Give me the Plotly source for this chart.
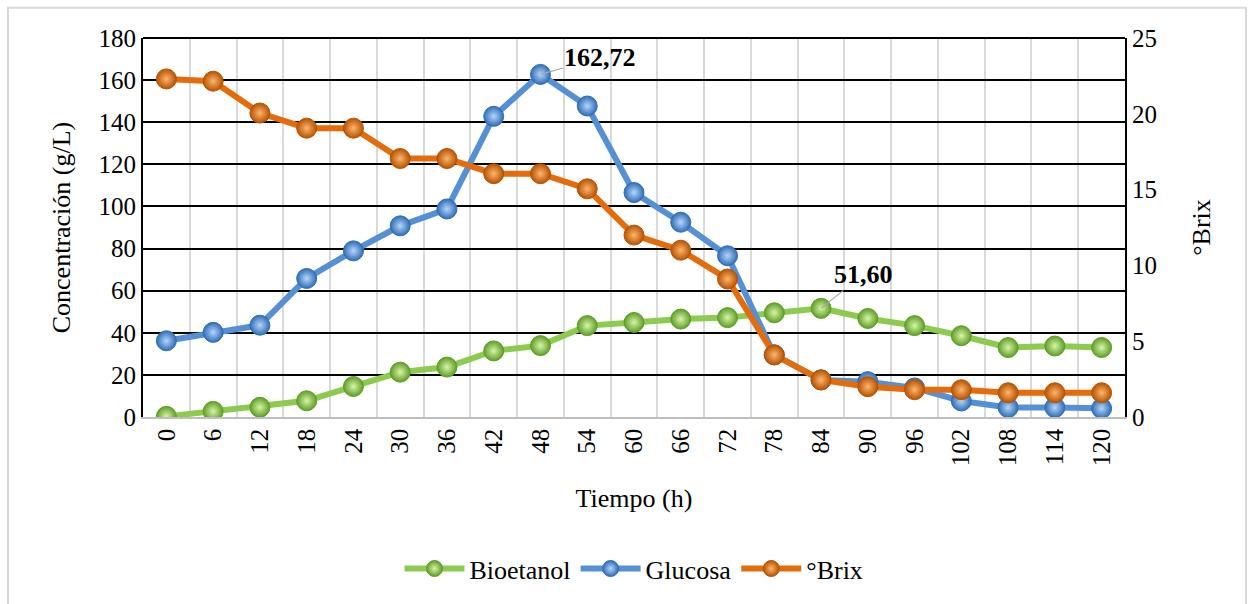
import plotly.graph_objects as go

# Sampling times (h)
tiempo = [0, 6, 12, 18, 24, 30, 36, 42, 48, 54, 60, 66, 72, 78, 84, 90, 96, 102, 108, 114, 120]

# Concentrations (g/L)
bioetanol = [0.3, 2.7, 4.6, 7.7, 14.5, 21.3, 23.7, 31.4, 33.9, 43.4, 44.9, 46.5, 47.2,
             49.5, 51.60, 46.8, 43.4, 38.6, 33.0, 33.7, 33.0]
glucosa = [36.2, 40.2, 43.6, 65.8, 78.9, 90.8, 98.8, 142.8, 162.72, 147.7, 106.6, 92.5, 76.6,
           29.5, 17.6, 16.8, 13.8, 7.6, 4.5, 4.5, 4.1]

# Soluble solids (°Brix)
brix = [22.3, 22.15, 20.05, 19.05, 19.05, 17.05, 17.05, 16.05, 16.05, 15.05, 12.0, 11.0, 9.1,
        4.1, 2.45, 2.0, 1.8, 1.8, 1.6, 1.6, 1.6]

cats = [str(t) for t in tiempo]

FONT = "'Times New Roman', 'Liberation Serif', serif"
fig = go.Figure()


def add_series(name, values, line_color, edge, center, axis):
    fig.add_trace(go.Scatter(
        x=cats, y=values, name=name, yaxis=axis, mode="lines+markers",
        line=dict(color=line_color, width=6),
        marker=dict(size=20, color=edge, symbol="circle",
                    gradient=dict(type="radial", color=center),
                    line=dict(color=edge, width=1)),
    ))


add_series("Bioetanol", bioetanol, "#8DCB4E", "#5E9E26", "#D8F5A8", "y")
add_series("Glucosa", glucosa, "#5590D6", "#2F6DB8", "#B5D6F7", "y")
add_series("°Brix", brix, "#E46C0A", "#B85200", "#FBB66E", "y2")


def fmt(v):
    return f"{v:.2f}".replace(".", ",")


# Value labels at the peaks (x given as category index)
i_glu = glucosa.index(max(glucosa))
fig.add_annotation(x=i_glu, y=glucosa[i_glu], text=f"<b>{fmt(glucosa[i_glu])}</b>",
                   showarrow=True, arrowhead=0, arrowwidth=1.2, arrowcolor="#A6A6A6",
                   ax=60, ay=-17, font=dict(family=FONT, size=26, color="black"))

i_bio = bioetanol.index(max(bioetanol))
fig.add_annotation(x=i_bio, y=bioetanol[i_bio], text=f"<b>{fmt(bioetanol[i_bio])}</b>",
                   showarrow=True, arrowhead=0, arrowwidth=1.2, arrowcolor="#A6A6A6",
                   ax=42, ay=-34, font=dict(family=FONT, size=26, color="black"))

# Light outer frame of the chart area
fig.add_shape(type="rect", xref="paper", yref="paper",
              x0=-0.1375, x1=1.1232, y0=-0.52, y1=1.080,
              line=dict(color="#D9D9D9", width=2), layer="below")

fig.update_layout(
    width=1248, height=604,
    margin=dict(l=143, r=123, t=38, b=185),
    paper_bgcolor="white", plot_bgcolor="white",
    font=dict(family=FONT, size=24, color="black"),
    showlegend=True,
    legend=dict(orientation="h", x=0.5, xanchor="center", y=-0.40, yanchor="middle",
                font=dict(family=FONT, size=26), itemwidth=60, traceorder="normal"),
    xaxis=dict(
        type="category", range=[-0.5, len(cats) - 0.5], tickmode="array", tickvals=cats,
        ticktext=cats, tickson="boundaries", showgrid=True, gridcolor="#D9D9D9", gridwidth=1.5,
        tickangle=-90, ticks="", showline=True, linecolor="#BFBFBF", linewidth=1.5,
        mirror=False, tickfont=dict(family=FONT, size=25),
        title=dict(text="Tiempo (h)", font=dict(family=FONT, size=26), standoff=24),
    ),
    yaxis=dict(
        range=[0, 180], dtick=20, showgrid=True, gridcolor="black", gridwidth=1.5,
        showline=True, linecolor="black", linewidth=2, ticks="", zeroline=False,
        tickfont=dict(family=FONT, size=25),
        title=dict(text="Concentración (g/L)", font=dict(family=FONT, size=26), standoff=20),
    ),
    yaxis2=dict(
        range=[0, 25], dtick=5, overlaying="y", side="right", showgrid=False,
        showline=True, linecolor="black", linewidth=2, ticks="", zeroline=False,
        tickfont=dict(family=FONT, size=25),
        title=dict(text="°Brix", font=dict(family=FONT, size=26), standoff=36),
    ),
)

# Top border of the plotting area
fig.add_shape(type="line", xref="paper", yref="paper", x0=0, x1=1, y0=1, y1=1,
              line=dict(color="black", width=2))

fig.write_html("out.html")
